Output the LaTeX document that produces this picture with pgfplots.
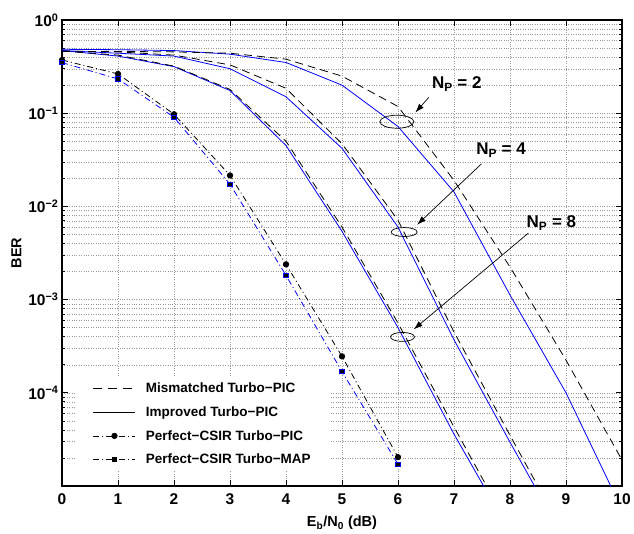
\documentclass[border=0pt]{standalone}
\usepackage{pgfplots}
\pgfplotsset{compat=1.18}
\usepackage{fontspec}
\setmainfont{Liberation Sans}
\usetikzlibrary{arrows.meta}
\begin{document}
\begin{tikzpicture}
\begin{axis}[
  scale only axis, width=560pt, height=466pt,
  xmin=0, xmax=10, ymode=log, ymin=1e-5, ymax=1,
  xtick={0,1,2,3,4,5,6,7,8,9,10},
  ytick={1e-5,1e-4,1e-3,1e-2,1e-1,1},
  yticklabels={,10\textsuperscript{−4},10\textsuperscript{−3},10\textsuperscript{−2},10\textsuperscript{−1},10\textsuperscript{0}},
  /pgf/number format/assume math mode=true,
  ticklabel style={font=\fontsize{15.5}{17}\selectfont\bfseries},
  xticklabel style={yshift=-4pt},
  xlabel={E\textsubscript{b}/N\textsubscript{0} (dB)},
  ylabel={BER},
  label style={font=\fontsize{14.5}{16}\selectfont\bfseries},
  xlabel style={yshift=-5pt},
  xmajorgrids, ymajorgrids, yminorgrids,
  major grid style={dotted, gray!80},
  minor grid style={dotted, gray!80},
  axis line style={line width=1.3pt},
  tick style={black, line width=0.7pt},
  major tick length=6pt, minor tick length=3.5pt,
  tick align=inside,
  legend style={at={(0.023,0.235)}, anchor=north west, draw=none, fill=white,
    font=\fontsize{13.5}{15}\selectfont\bfseries, row sep=8.5pt, inner xsep=18pt, inner ysep=4pt,
    /tikz/every odd column/.append style={column sep=8pt}},
  legend cell align=left,
  legend image code/.code={\draw[mark repeat=2,mark phase=2,#1] plot coordinates {(0pt,0pt) (21pt,0pt) (42pt,0pt)};},
]
\addlegendimage{black, line width=0.8pt, dash pattern=on 9pt off 6pt}
\addlegendentry{Mismatched Turbo−PIC}
\addlegendimage{black, line width=0.8pt}
\addlegendentry{Improved Turbo−PIC}
\addlegendimage{black, line width=0.8pt, dash pattern=on 6pt off 3pt on 1pt off 3pt, mark=*, mark size=2.7pt, mark options={solid}}
\addlegendentry{Perfect−CSIR Turbo−PIC}
\addlegendimage{black, line width=0.8pt, dash pattern=on 6pt off 3pt on 1pt off 3pt, mark=square*, mark size=2pt, mark options={solid}}
\addlegendentry{Perfect−CSIR Turbo−MAP}

% N_P = 2
\addplot[forget plot, blue, line width=0.8pt] coordinates {(0,0.485)(1,0.48)(2,0.47)(3,0.43)(4,0.35)(5,0.20)(6,0.072)(7,0.0143)(8,1.12e-3)(9,1.0e-4)(10,5.6e-6)};
\addplot[forget plot, black, line width=0.8pt, dash pattern=on 8pt off 5pt] coordinates {(0,0.46)(1,0.46)(2,0.455)(3,0.44)(4,0.38)(5,0.25)(6,0.118)(7,0.019)(8,2.24e-3)(9,2.24e-4)(10,1.9e-5)};
% N_P = 4
\addplot[forget plot, blue, line width=0.8pt] coordinates {(0,0.47)(1,0.44)(2,0.41)(3,0.30)(4,0.15)(5,0.042)(6,6.0e-3)(7,3.7e-4)(8,2.95e-5)(9,2.5e-6)};
\addplot[forget plot, black, line width=0.8pt, dash pattern=on 8pt off 5pt] coordinates {(0,0.465)(1,0.455)(2,0.42)(3,0.33)(4,0.185)(5,0.047)(6,7.1e-3)(7,4.5e-4)(8,3.5e-5)(9,2.8e-6)};
% N_P = 8
\addplot[forget plot, blue, line width=0.8pt] coordinates {(0,0.47)(1,0.41)(2,0.316)(3,0.175)(4,0.045)(5,5.4e-3)(6,5.0e-4)(7,3.6e-5)(8,3.2e-6)};
\addplot[forget plot, black, line width=0.8pt, dash pattern=on 8pt off 5pt] coordinates {(0,0.465)(1,0.42)(2,0.32)(3,0.18)(4,0.05)(5,6.0e-3)(6,5.6e-4)(7,4.3e-5)(8,3.5e-6)};
% Perfect CSIR
\addplot[forget plot, black, line width=0.8pt, dash pattern=on 6pt off 3pt on 1pt off 3pt, mark=*, mark size=2.7pt, mark options={solid}] coordinates {(0,0.372)(1,0.264)(2,0.0975)(3,0.0215)(4,2.39e-3)(5,2.46e-4)(6,2.04e-5)};
\addplot[forget plot, blue, line width=0.8pt, dash pattern=on 6pt off 3pt on 1pt off 3pt, mark=square*, mark size=2.2pt, mark options={solid, fill=black, draw=blue}] coordinates {(0,0.349)(1,0.233)(2,0.0906)(3,0.0173)(4,1.82e-3)(5,1.69e-4)(6,1.71e-5)};

% annotations
\draw[line width=0.7pt] (axis cs:5.98,0.081) ellipse [x radius=17pt, y radius=6.5pt];
\draw[line width=0.7pt, -{Latex[length=9pt,width=6pt]}] (axis cs:6.55,0.148) -- (axis cs:6.31,0.1016);
\node[font=\fontsize{17}{19}\selectfont\bfseries] at (axis cs:7.05,0.205) {N\textsubscript{P} = 2};

\draw[line width=0.7pt] (axis cs:6.11,5.31e-3) ellipse [x radius=13pt, y radius=4.5pt];
\draw[line width=0.7pt, -{Latex[length=9pt,width=6pt]}] (axis cs:7.49,0.0286) -- (axis cs:6.34,6.35e-3);
\node[font=\fontsize{17}{19}\selectfont\bfseries] at (axis cs:7.84,0.0404) {N\textsubscript{P} = 4};

\draw[line width=0.7pt] (axis cs:6.08,3.98e-4) ellipse [x radius=12pt, y radius=4.5pt];
\draw[line width=0.7pt, -{Latex[length=9pt,width=6pt]}] (axis cs:8.33,5.18e-3) -- (axis cs:6.28,4.79e-4);
\node[font=\fontsize{17}{19}\selectfont\bfseries] at (axis cs:8.74,6.62e-3) {N\textsubscript{P} = 8};

\coordinate (bl) at (rel axis cs:0,0);
\coordinate (tr) at (rel axis cs:1,1);
\end{axis}
\path ([xshift=-62pt,yshift=-46pt]bl) rectangle ([xshift=12pt,yshift=20pt]tr);
\end{tikzpicture}
\end{document}
